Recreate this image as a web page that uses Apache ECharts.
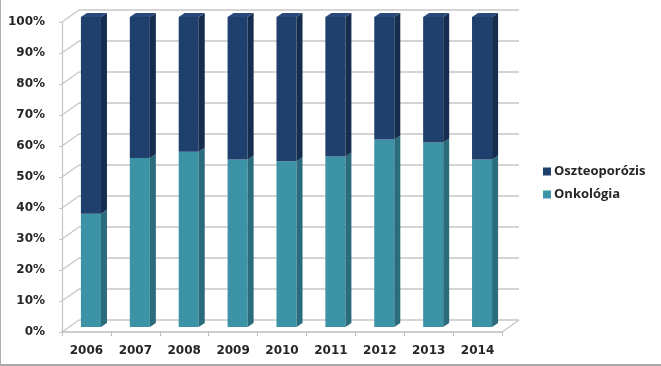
<!DOCTYPE html>
<html>
<head>
<meta charset="utf-8">
<script src="https://cdn.jsdelivr.net/npm/echarts@6/dist/echarts.min.js"></script>
<style>
html,body{margin:0;padding:0;background:#fff;}
#c{width:661px;height:366px;box-sizing:border-box;border-left:1px solid #b0b0b0;border-bottom:2px solid #a8a8a8;}
</style>
</head>
<body>
<div id="c"></div>
<script>
// ---- data ----
const years = ['2006','2007','2008','2009','2010','2011','2012','2013','2014'];
const onkologia = [36.5, 54.5, 56.5, 54, 53.5, 55, 60.5, 59.5, 54];
const oszteoporozis = [63.5, 45.5, 43.5, 46, 46.5, 45, 39.5, 40.5, 46];
const yTicks = [0,10,20,30,40,50,60,70,80,90,100];

// ---- style constants ----
const FX = -12.5, FY = 7;   // front face offset from back-wall coords
const DX = 6, DY = 4;       // bar depth
const WX = -17, WY = 12;    // wall depth (front plane offset)

function barRenderer(front, side, top, drawTop) {
  return function (params, api) {
    const i = api.value(0);
    const p0 = api.coord([i, api.value(1)]);
    const p1 = api.coord([i, api.value(2)]);
    const bw = api.size([1, 0])[0] * 0.41;
    const x0 = p0[0] + FX - bw / 2, x1 = p0[0] + FX + bw / 2;
    const yb = p0[1] + FY, yt = p1[1] + FY;
    const children = [
      {type: 'rect', shape: {x: x0, y: yt, width: bw, height: yb - yt}, style: {fill: front}},
      {type: 'polygon', shape: {points: [[x1, yt], [x1 + DX, yt - DY], [x1 + DX, yb - DY], [x1, yb]]}, style: {fill: side}}
    ];
    if (drawTop) {
      children.push({type: 'polygon', shape: {points: [[x0, yt], [x0 + DX, yt - DY], [x1 + DX, yt - DY], [x1, yt]]}, style: {fill: top}});
    }
    return {type: 'group', children: children};
  };
}

const onkData = years.map((y, i) => [i, 0, onkologia[i]]);
const oszData = years.map((y, i) => [i, onkologia[i], onkologia[i] + oszteoporozis[i]]);

const chart = echarts.init(document.getElementById('c'), null, {renderer: 'canvas'});
const labelFont = {fontFamily: 'DejaVu Sans', fontWeight: 'bold', fontSize: 12, color: '#262626'};

chart.setOption({
  animation: false,
  backgroundColor: 'transparent',
  grid: [
    {left: 78, top: 10, width: 440, height: 310},
    {left: 61, top: 22, width: 440, height: 310}
  ],
  xAxis: [
    {type: 'category', gridIndex: 0, data: years, axisLine: {show: false}, axisTick: {show: false}, axisLabel: {show: false}},
    {type: 'category', gridIndex: 1, data: years,
      axisLine: {show: true, lineStyle: {color: '#bdbdbd', width: 1.5}},
      axisTick: {show: true, length: 4, lineStyle: {color: '#bdbdbd'}},
      axisLabel: Object.assign({margin: 13}, labelFont)}
  ],
  yAxis: [
    {type: 'value', gridIndex: 0, min: 0, max: 100, interval: 10,
      axisLine: {show: false}, axisTick: {show: false}, axisLabel: {show: false},
      splitLine: {show: true, lineStyle: {color: '#c6c6c6', width: 1.5}}},
    {type: 'value', gridIndex: 1, min: 0, max: 100, interval: 10,
      axisLine: {show: true, lineStyle: {color: '#c6c6c6', width: 1.2}},
      axisTick: {show: true, length: 3, lineStyle: {color: '#c6c6c6'}},
      splitLine: {show: false},
      axisLabel: Object.assign({margin: 17, formatter: '{value}%'}, labelFont)}
  ],
  legend: {
    orient: 'vertical', left: 537, top: 160, itemWidth: 8, itemHeight: 8, itemGap: 10,
    icon: 'rect',
    data: ['Oszteoporózis', 'Onkológia'],
    textStyle: {fontFamily: 'Open Sans', fontWeight: 'bold', fontSize: 13, color: '#262626', padding: [0, 0, 0, -2]}
  },
  series: [
    {
      name: 'depth', type: 'custom', xAxisIndex: 0, yAxisIndex: 0, silent: true, z: 1,
      data: yTicks.map(v => [0, v]),
      encode: {x: 0, y: 1},
      renderItem: function (params, api) {
        const v = api.value(1);
        const p = api.coord([0, v]);
        const bw = api.size([1, 0])[0];
        const xl = p[0] - bw / 2;
        const st = {stroke: '#c6c6c6', lineWidth: 1.2};
        const ch = [{type: 'line', shape: {x1: xl, y1: p[1], x2: xl + WX, y2: p[1] + WY}, style: st}];
        if (v === 0) {
          const pr = api.coord([years.length - 1, 0]);
          const xr = pr[0] + bw / 2;
          ch.push({type: 'line', shape: {x1: xr, y1: pr[1], x2: xr + WX, y2: pr[1] + WY}, style: st});
        }
        return {type: 'group', children: ch};
      }
    },
    {
      name: 'Onkológia', type: 'custom', xAxisIndex: 0, yAxisIndex: 0, z: 3,
      itemStyle: {color: '#3c93a6'},
      data: onkData, encode: {x: 0, y: [1, 2]},
      renderItem: barRenderer('#3c93a6', '#2a6c7c', '#4aa3b6', false)
    },
    {
      name: 'Oszteoporózis', type: 'custom', xAxisIndex: 0, yAxisIndex: 0, z: 3,
      itemStyle: {color: '#1f3f6c'},
      data: oszData, encode: {x: 0, y: [1, 2]},
      renderItem: barRenderer('#1f3f6c', '#152d4f', '#28497a', true)
    }
  ]
});
</script>
</body>
</html>
